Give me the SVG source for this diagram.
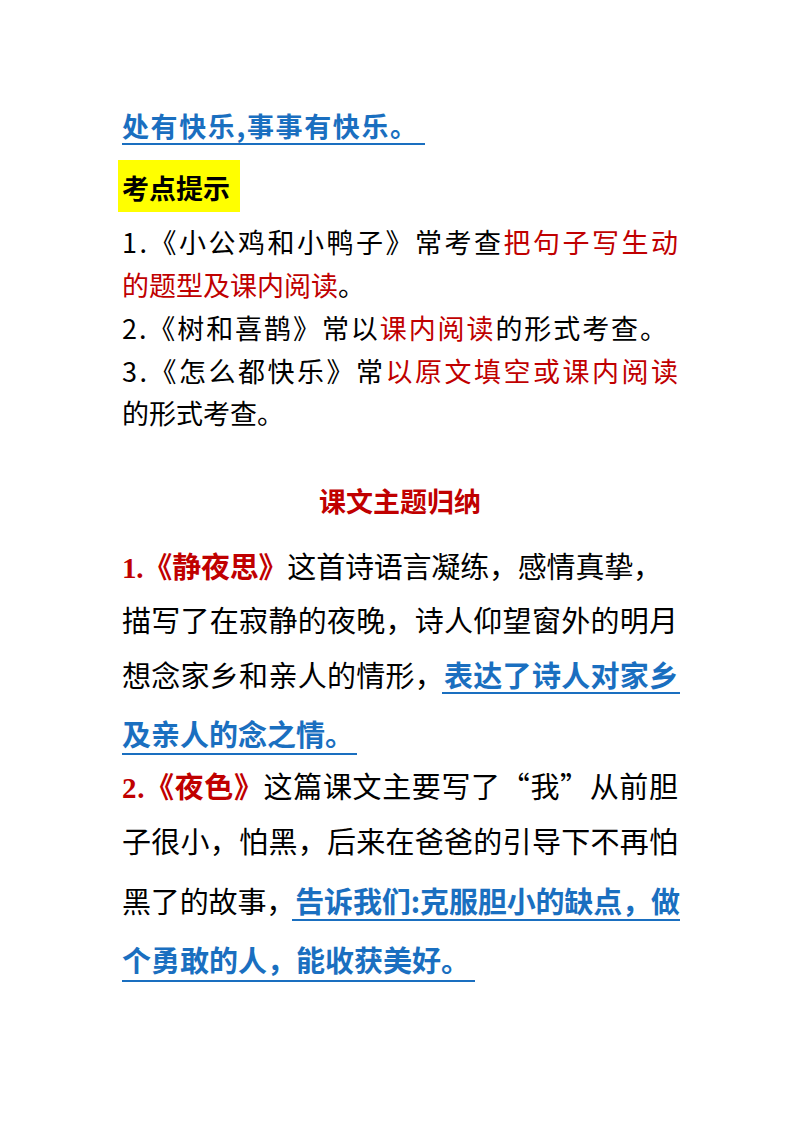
<svg xmlns="http://www.w3.org/2000/svg" width="800" height="1132" viewBox="0 0 800 1132">
<style>
text{font-family:"Noto Sans CJK SC","Noto Sans",sans-serif;fill:#000}
.b{font-weight:bold}
.blue{fill:#1a6fc0}
.red{fill:#c00000}
.ul{stroke:#1a6fc0;stroke-width:2}
.s1{font-size:27px}
.s2{font-size:29px}
.ser{font-family:"Liberation Serif","Noto Sans CJK SC",serif;font-weight:bold}
</style>
<rect width="800" height="1132" fill="#fff"/>
<text x="122" y="137" class="s1 b blue" textLength="295">处有快乐,事事有快乐。</text>
<line x1="122" y1="144" x2="425" y2="144" class="ul"/>
<rect x="118" y="160" width="122" height="52" fill="#ffff00"/>
<text x="122" y="199" class="s1 b">考点提示</text>
<text x="122" y="253" class="s1" textLength="556">1.《小公鸡和小鸭子》常考查<tspan class="red">把句子写生动</tspan></text>
<text x="122" y="296" class="s1"><tspan class="red">的题型及课内阅读</tspan>。</text>
<text x="122" y="339" class="s1" textLength="545">2.《树和喜鹊》常以<tspan class="red">课内阅读</tspan>的形式考查。</text>
<text x="122" y="382" class="s1" textLength="556">3.《怎么都快乐》常<tspan class="red">以原文填空或课内阅读</tspan></text>
<text x="122" y="424" class="s1">的形式考查。</text>
<text x="400" y="512" class="s1 b red" text-anchor="middle">课文主题归纳</text>
<text x="122" y="578" class="s2" textLength="540"><tspan class="ser red">1.《静夜思》</tspan>这首诗语言凝练，感情真挚，</text>
<text x="122" y="632" class="s2" textLength="556">描写了在寂静的夜晚，诗人仰望窗外的明月</text>
<text x="122" y="687" class="s2" textLength="556">想念家乡和亲人的情形，<tspan class="b blue">表达了诗人对家乡</tspan></text>
<line x1="442" y1="693" x2="680" y2="693" class="ul"/>
<text x="122" y="746" class="s2 b blue">及亲人的念之情。</text>
<line x1="122" y1="754" x2="357" y2="754" class="ul"/>
<text x="122" y="798" class="s2" textLength="556"><tspan class="ser red">2.《夜色》</tspan>这篇课文主要写了“我”从前胆</text>
<text x="122" y="853" class="s2" textLength="556">子很小，怕黑，后来在爸爸的引导下不再怕</text>
<text x="122" y="913" class="s2" textLength="558">黑了的故事，<tspan class="b blue">告诉我们:克服胆小的缺点，做</tspan></text>
<line x1="292" y1="920" x2="680" y2="920" class="ul"/>
<text x="122" y="972" class="s2 b blue">个勇敢的人，能收获美好。</text>
<line x1="122" y1="981" x2="475" y2="981" class="ul"/>
</svg>
